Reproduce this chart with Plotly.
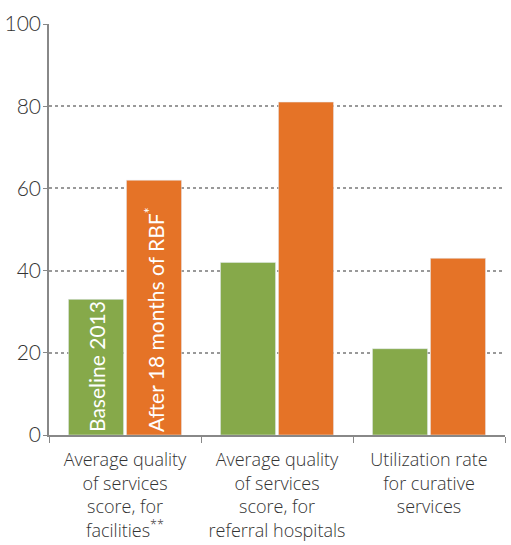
import plotly.graph_objects as go

categories = [
    "Average quality<br>of services<br>score, for<br>facilities<sup>**</sup>",
    "Average quality<br>of services<br>score, for<br>referral hospitals",
    "Utilization rate<br>for curative<br>services",
]
baseline = [33, 42, 21]
after = [62, 81, 43]
baseline_text = ["Baseline 2013", "", ""]
after_text = ["After 18 months of RBF<sup>*</sup>", "", ""]
y_ticks = [0, 20, 40, 60, 80, 100]

bar_font = dict(color="white", size=21, family="Lato", weight=400)

fig = go.Figure()
fig.add_trace(go.Bar(
    x=categories, y=baseline, name="Baseline 2013",
    marker_color="#86A94A", text=baseline_text, textposition="inside",
    textangle=-90, insidetextanchor="start", textfont=bar_font,
    constraintext="none", hoverinfo="y",
))
fig.add_trace(go.Bar(
    x=categories, y=after, name="After 18 months of RBF",
    marker_color="#E57327", text=after_text, textposition="inside",
    textangle=-90, insidetextanchor="start", textfont=bar_font,
    constraintext="none", hoverinfo="y",
))

fig.update_layout(
    width=511, height=545,
    margin=dict(l=49, r=6, t=24, b=110),
    barmode="group", bargap=0.237, bargroupgap=0.05,
    showlegend=False,
    plot_bgcolor="white", paper_bgcolor="white",
    font=dict(family="Open Sans", color="#333333", weight=300),
)
fig.update_xaxes(
    automargin=False,
    showline=True, linecolor="#888888", linewidth=1.5,
    ticks="outside", tickson="boundaries", ticklen=6, tickcolor="#888888",
    ticklabelstandoff=8,
    tickfont=dict(size=18, color="#333333", family="Open Sans", weight=300),
    showgrid=False,
)
fig.update_yaxes(
    automargin=False,
    range=[0, 100], tickvals=y_ticks,
    showline=True, linecolor="#888888", linewidth=1.5,
    ticks="outside", ticklen=4, tickcolor="#888888",
    ticklabelstandoff=-2,
    tickfont=dict(size=21, color="#333333", family="Lato", weight=300),
    showgrid=True, gridcolor="#999999", griddash="dot", gridwidth=1.5,
    zeroline=False,
)

fig.write_html(
    "out.html",
    config={"displayModeBar": False},
    post_script="document.body.style.margin='0';",
)
